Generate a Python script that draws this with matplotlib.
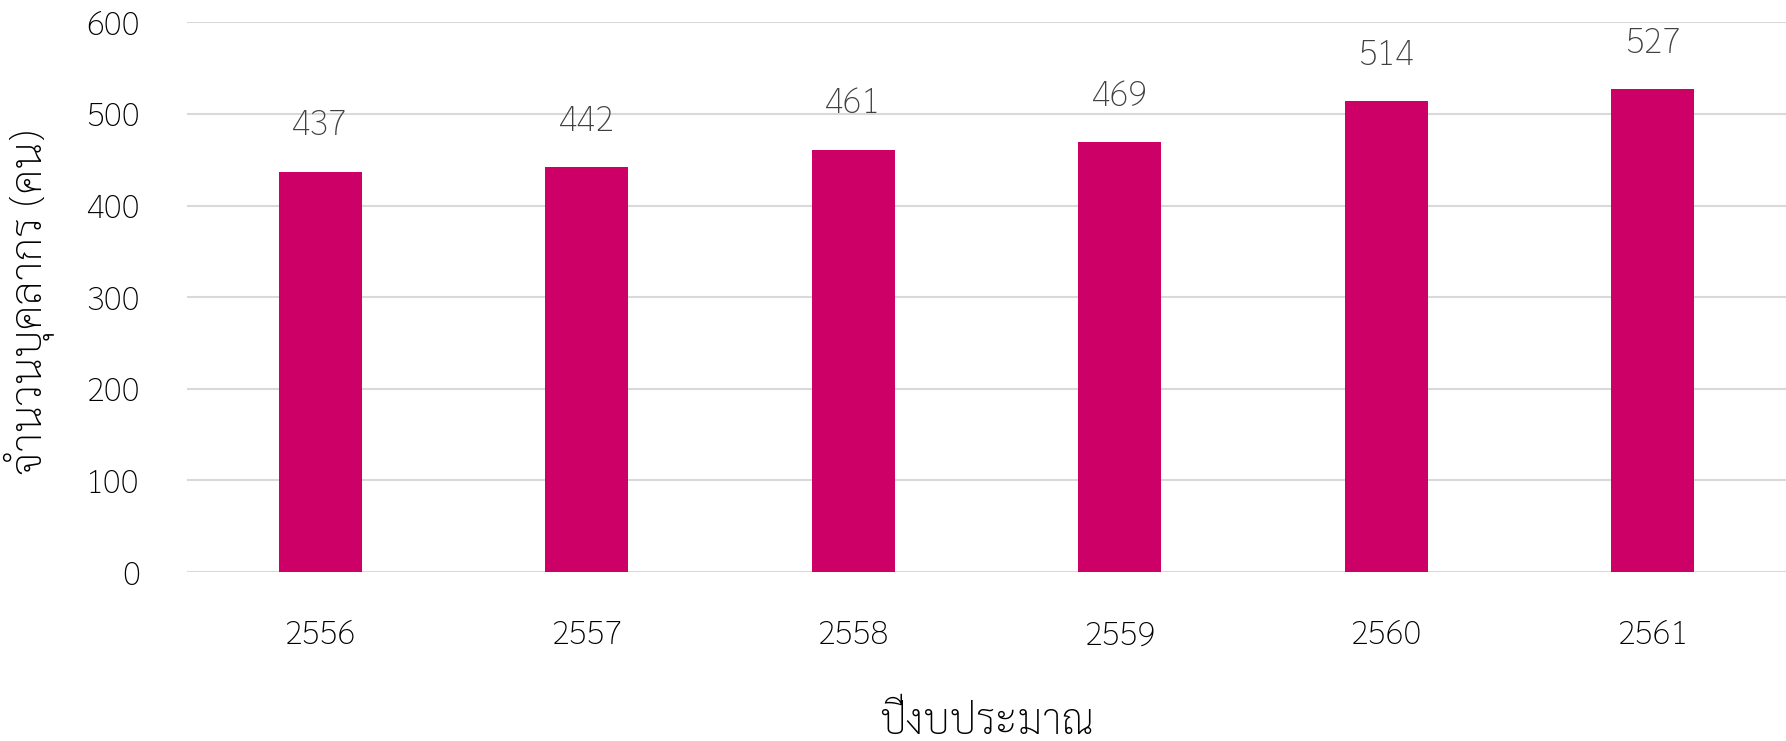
import matplotlib
matplotlib.use('Agg')
import matplotlib.pyplot as plt

plt.rcParams['font.family'] = ['Sarabun', 'Noto Sans Thai', 'Noto Sans', 'DejaVu Sans']
plt.rcParams['font.weight'] = 'light'
plt.rcParams['axes.labelweight'] = 'light'

years = ['2556', '2557', '2558', '2559', '2560', '2561']
staff = [437, 442, 461, 469, 514, 527]
yticks = [0, 100, 200, 300, 400, 500, 600]

bar_color = '#CC0066'
grid_color = '#D9D9D9'

fig = plt.figure(figsize=(17.86, 7.41), dpi=100)
ax = fig.add_axes([0.1047, 0.228, 0.8953, 0.742])

x = range(len(years))
bars = ax.bar(x, staff, width=0.31, color=bar_color, zorder=3)

for xi, v in zip(x, staff):
    ax.annotate(str(v), (xi, v), xytext=(0, 26), textcoords='offset points',
                ha='center', va='baseline', fontsize=25, color='#404040')

ax.set_xlim(-0.5, len(years) - 0.5)
ax.set_ylim(0, 600)
ax.set_yticks(yticks)
ax.set_xticks(list(x))
ax.set_xticklabels(years)
ax.tick_params(axis='both', length=0, labelsize=24, colors='black')
ax.tick_params(axis='y', pad=34)
ax.tick_params(axis='x', pad=34)

ax.grid(axis='y', color=grid_color, linewidth=1.5, zorder=0)
for s in ax.spines.values():
    s.set_visible(False)

ax.set_xlabel('ปีงบประมาณ', fontsize=30, labelpad=37, fontweight='light')
ax.set_ylabel('จำนวนบุคลากร (คน)', fontsize=31, fontweight='light')
ax.yaxis.set_label_coords(-0.083, 0.49)

fig.savefig('out.png', dpi=100)
